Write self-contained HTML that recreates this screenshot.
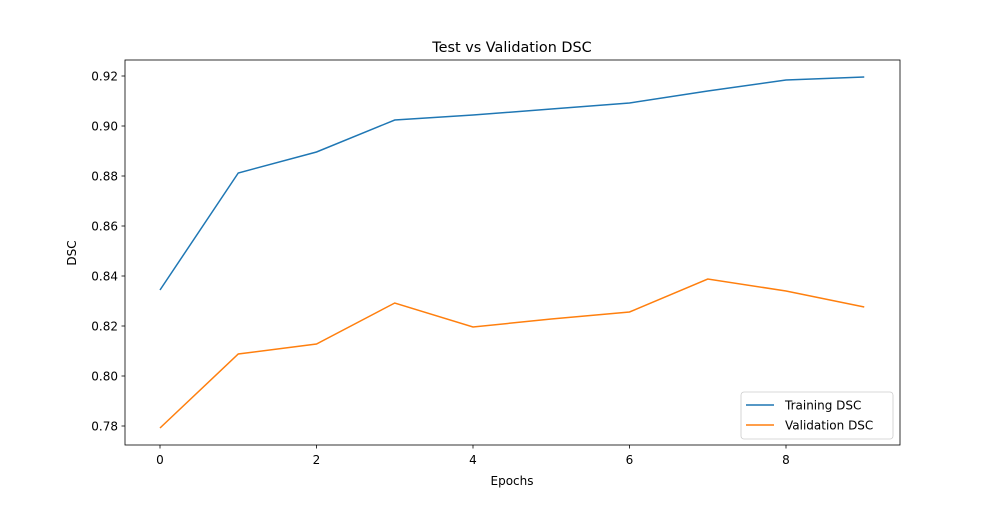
<!DOCTYPE html>
<html><head><meta charset="utf-8"><style>
body{margin:0;background:#fff}
svg text{font-family:"DejaVu Sans","Liberation Sans",sans-serif;fill:#000}
</style></head><body>
<svg id="chart" width="1000" height="500" xmlns="http://www.w3.org/2000/svg">
<rect width="1000" height="500" fill="#fff"/>
<text x="512" y="52" font-size="14.4" text-anchor="middle">Test vs Validation DSC</text>
<g id="plot"></g>
<rect x="125" y="60" width="775" height="385" fill="none" stroke="#000" stroke-width="0.8"/>
<text x="512" y="485" font-size="12" text-anchor="middle">Epochs</text>
<text transform="translate(76,253) rotate(-90)" font-size="12" text-anchor="middle">DSC</text>
<g>
<rect x="741" y="392" width="152" height="47" rx="3" fill="#fff" fill-opacity="0.8" stroke="#ccc" stroke-width="0.8"/>
<line x1="746" y1="405" x2="774" y2="405" stroke="#1f77b4" stroke-width="1.5"/>
<text x="785" y="409.5" font-size="12">Training DSC</text>
<line x1="746" y1="425" x2="774" y2="425" stroke="#ff7f0e" stroke-width="1.5"/>
<text x="785" y="429.5" font-size="12">Validation DSC</text>
</g>
</svg>
<script>
const epochs=[0,1,2,3,4,5,6,7,8,9];
const training=[0.8344,0.8812,0.8896,0.9024,0.9044,0.9068,0.9092,0.9140,0.9184,0.9196];
const validation=[0.7792,0.8088,0.8128,0.8292,0.8196,0.8228,0.8256,0.8388,0.8340,0.8276];
const xTicks=[0,2,4,6,8];
const yTicks=[0.78,0.80,0.82,0.84,0.86,0.88,0.90,0.92];
const xs=v=>160+78.25*v;
const ys=v=>426-(v-0.78)*2500;
const NS="http://www.w3.org/2000/svg";
const g=document.getElementById('plot');
function mk(t,a){const e=document.createElementNS(NS,t);for(const k in a)e.setAttribute(k,a[k]);g.appendChild(e);return e;}
xTicks.forEach(v=>{
 const l=mk('line',{x1:xs(v),x2:xs(v),y1:445,y2:448.5,stroke:'#000','stroke-width':0.8});
 
 
 const t=mk('text',{x:xs(v),y:464,'font-size':12,'text-anchor':'middle'});t.textContent=v;
 
 
});
yTicks.forEach(v=>{
 const l=mk('line',{x1:121.5,x2:125,y1:ys(v),y2:ys(v),stroke:'#000','stroke-width':0.8});
 
 
 const t=mk('text',{x:118,y:ys(v)+4.5,'font-size':12,'text-anchor':'end'});t.textContent=v.toFixed(2);
 
 
});
function line(vals,color,name){
 const p=mk('polyline',{points:vals.map((v,i)=>xs(epochs[i])+','+ys(v)).join(' '),fill:'none',stroke:color,'stroke-width':1.5});
 
 
}
line(training,'#1f77b4','training-line');
line(validation,'#ff7f0e','validation-line');
</script>
</body></html>
